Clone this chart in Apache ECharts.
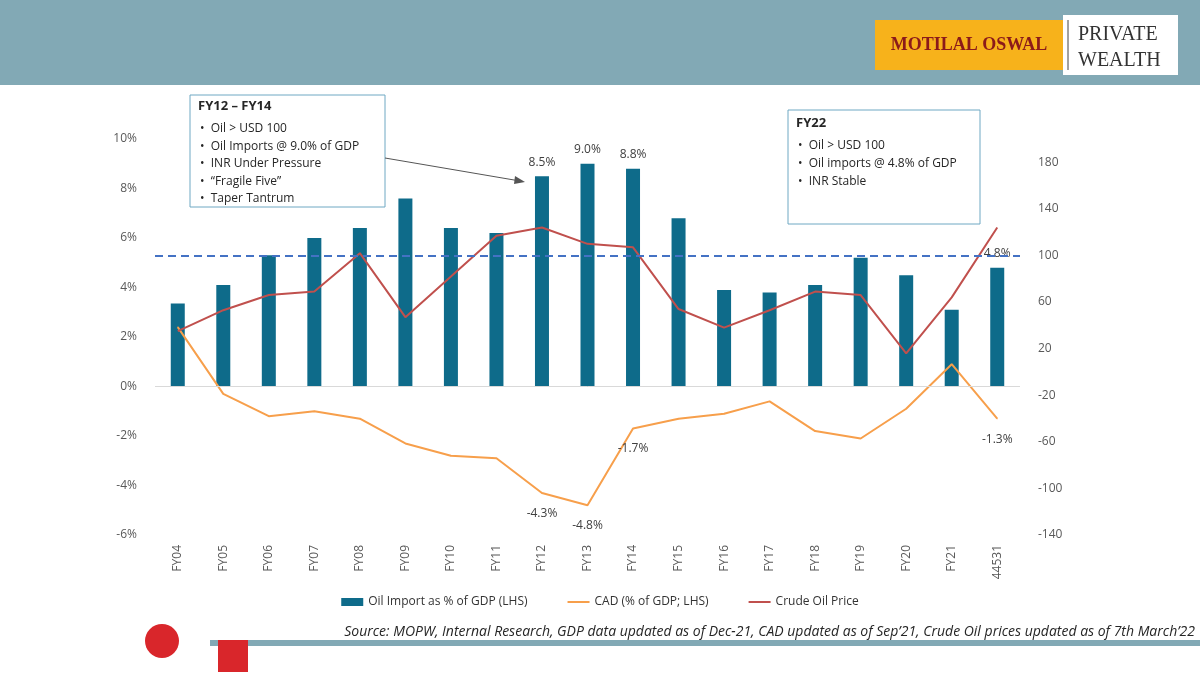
<!DOCTYPE html>
<html><head><meta charset="utf-8">
<script src="https://cdn.jsdelivr.net/npm/echarts@6/dist/echarts.min.js"></script>
<style>html,body{margin:0;padding:0;background:#fff}#c{width:1200px;height:675px}</style>
</head><body><div id="c"></div>
<script>
const categories=['FY04','FY05','FY06','FY07','FY08','FY09','FY10','FY11','FY12','FY13','FY14','FY15','FY16','FY17','FY18','FY19','FY20','FY21','44531'];
const oilImport=[3.35,4.1,5.3,6.0,6.4,7.6,6.4,6.2,8.5,9.0,8.8,6.8,3.9,3.8,4.1,5.2,4.5,3.1,4.8];
const cad=[2.4,-0.3,-1.2,-1.0,-1.3,-2.3,-2.8,-2.9,-4.3,-4.8,-1.7,-1.3,-1.1,-0.6,-1.8,-2.1,-0.9,0.9,-1.3];
const crude=[35,53,66,69,102,47,82,117,124,110,107,54,38,53,69,66,16,64,124];
const barLabels={8:'8.5%',9:'9.0%',10:'8.8%',18:'4.8%'};
const cadLabels={8:'-4.3%',9:'-4.8%',10:'-1.7%',18:'-1.3%'};
const ch=echarts.init(document.getElementById('c'));
const ff='"Open Sans", "Noto Sans", sans-serif';
const lineIcon='path://M0,0H22V2H0Z';
ch.setOption({
 animation:false,
 textStyle:{fontFamily:ff},
 grid:{left:155,right:180,top:139,bottom:140,outerBoundsMode:'none',containLabel:false},
 legend:{bottom:62,left:'center',itemGap:40,textStyle:{fontSize:12,color:'#333'},
  data:[{name:'Oil Import as % of GDP (LHS)',icon:'rect'},{name:'CAD (% of GDP; LHS)',icon:lineIcon},{name:'Crude Oil Price',icon:lineIcon}],itemWidth:22,itemHeight:8},
 xAxis:{type:'category',data:categories,position:'bottom',axisLine:{show:false,onZero:false},axisTick:{show:false},
  axisLabel:{rotate:90,color:'#595959',fontSize:12,margin:10,verticalAlign:'middle',interval:0}},
 yAxis:[{type:'value',min:-6,max:10,interval:2,splitLine:{show:false},axisLine:{show:false},
  axisLabel:{formatter:v=>v+'%',color:'#595959',fontSize:12,margin:18}},
  {type:'value',min:-140,max:200,interval:40,splitLine:{show:false},axisLine:{show:false},
  axisLabel:{color:'#595959',fontSize:12,showMaxLabel:false,margin:18}}],
 series:[
  {name:'Oil Import as % of GDP (LHS)',type:'bar',data:oilImport,barWidth:14,itemStyle:{color:'#0e6b8a'},
   label:{show:true,position:'top',distance:8,color:'#404040',fontSize:12,formatter:p=>barLabels[p.dataIndex]||''},
   markLine:{silent:true,symbol:'none',label:{show:false},data:[
     {yAxis:5.3,lineStyle:{color:'#4472c4',type:[8,5],width:2}},
     {yAxis:0,lineStyle:{color:'#d9d9d9',type:'solid',width:1}}]}},
  {name:'CAD (% of GDP; LHS)',type:'line',data:cad,symbol:'circle',symbolSize:1,lineStyle:{color:'#f79f4b',width:2},itemStyle:{color:'#f79f4b'},
   label:{show:true,position:'bottom',distance:14,color:'#404040',fontSize:12,formatter:p=>cadLabels[p.dataIndex]||''}},
  {name:'Crude Oil Price',type:'line',yAxisIndex:1,data:crude,symbol:'none',lineStyle:{color:'#c0504d',width:2},itemStyle:{color:'#c0504d'}}
 ],
 graphic:[
  {type:'rect',shape:{x:0,y:0,width:1200,height:85},style:{fill:'#82a9b5'}},
  {type:'rect',shape:{x:875,y:20,width:188,height:50},style:{fill:'#f7b21b'}},
  {type:'text',x:969,y:45,style:{text:'MOTILAL OSWAL',fill:'#8b1a1a',font:'bold 18px "Liberation Serif", serif',align:'center',verticalAlign:'middle'}},
  {type:'rect',shape:{x:1063,y:15,width:115,height:60},style:{fill:'#fff'}},
  {type:'line',shape:{x1:1068,y1:20,x2:1068,y2:70},style:{stroke:'#444',lineWidth:1}},
  {type:'text',x:1078,y:22,style:{text:'PRIVATE\nWEALTH',fill:'#333',font:'20px "Liberation Serif", serif',lineHeight:26}},
  {type:'rect',shape:{x:190,y:95,width:195,height:112},style:{fill:'#fff',stroke:'#6fa8c3',lineWidth:1}},
  {type:'text',x:198,y:100,style:{text:'FY12 – FY14',fill:'#262626',font:'bold 13px '+ff}},
  {type:'text',x:200,y:120,style:{text:'•  Oil > USD 100\n•  Oil Imports @ 9.0% of GDP\n•  INR Under Pressure\n•  “Fragile Five”\n•  Taper Tantrum',fill:'#262626',font:'12px '+ff,lineHeight:17.5}},
  {type:'line',shape:{x1:385,y1:158,x2:520,y2:181},style:{stroke:'#555',lineWidth:1}},
  {type:'polygon',shape:{points:[[525,182],[515,176],[514,184]]},style:{fill:'#555'}},
  {type:'rect',shape:{x:788,y:110,width:192,height:114},style:{fill:'#fff',stroke:'#6fa8c3',lineWidth:1}},
  {type:'text',x:796,y:117,style:{text:'FY22',fill:'#262626',font:'bold 13px '+ff}},
  {type:'text',x:798,y:137,style:{text:'•  Oil > USD 100\n•  Oil imports @ 4.8% of GDP\n•  INR Stable',fill:'#262626',font:'12px '+ff,lineHeight:18}},
  {type:'rect',shape:{x:210,y:640,width:990,height:6},style:{fill:'#82a9b5'}},
  {type:'circle',shape:{cx:162,cy:641,r:17},style:{fill:'#d9262b'}},
  {type:'rect',shape:{x:218,y:640,width:30,height:32},style:{fill:'#d9262b'}},
  {type:'text',x:1195,y:632,style:{text:'Source: MOPW, Internal Research, GDP data updated as of Dec-21, CAD updated as of Sep’21, Crude Oil prices updated as of 7th March’22',fill:'#262626',font:'italic 14px '+ff,align:'right',verticalAlign:'middle'}}
 ]
});
</script></body></html>
